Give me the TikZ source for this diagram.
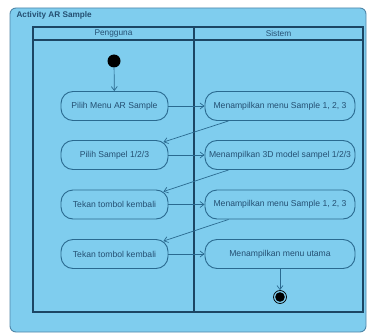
\documentclass[tikz,border=0pt]{standalone}
\usepackage{fontspec}
\setmainfont{Liberation Sans}
\usetikzlibrary{arrows.meta,calc}
\definecolor{skyfill}{HTML}{7FCDEE}
\definecolor{framec}{HTML}{4F86A8}
\definecolor{lanec}{HTML}{1C4664}
\definecolor{boxc}{HTML}{2A6A90}
\definecolor{txtc}{HTML}{244F72}
\tikzset{
  x=1pt, y=-1pt,
  action/.style={draw=boxc, line width=0.9pt, rounded corners=12pt, fill=skyfill,
    minimum height=29pt, inner sep=1pt, font=\fontsize{8.6}{9}\selectfont, text=txtc},
  leftact/.style={action, minimum width=107pt},
  rightact/.style={action, minimum width=150pt},
  flow/.style={draw=boxc, line width=0.7pt, -{Straight Barb[length=4pt,width=6pt]}},
  lane/.style={draw=lanec, line width=1.1pt},
  head/.style={font=\fontsize{8.3}{9}\selectfont, text=txtc}
}
\begin{document}
\begin{tikzpicture}
\useasboundingbox (0,0) rectangle (371,334);
% diagram frame
\draw[framec, line width=0.9pt, fill=skyfill, rounded corners=6pt] (10,8) rectangle (366,332);
\node[anchor=west, font=\bfseries\fontsize{8.2}{9}\selectfont, text=txtc] (title) at (13,15.5) {Activity AR Sample};
% swimlanes
\draw[lane] (33,27) rectangle (363,312);
\draw[lane] (33,40) -- (363,40);
\draw[lane] (194,27) -- (194,312);
\node[head] (laneA) at (113.5,33.5) {Pengguna};
\node[head] (laneB) at (278.5,33.5) {Sistem};
% start and end markers
\node[circle, fill=black, minimum size=13pt, inner sep=0pt] (start) at (114,61) {};
\node[circle, draw=black, line width=0.7pt, minimum size=13pt, inner sep=0pt] (stop) at (280,297) {};
\fill[black] (stop.center) circle (4.8pt);
% actions
\node[leftact] (a1) at (114.5,106) {Pilih Menu AR Sample};
\node[leftact] (a2) at (114.5,155) {Pilih Sampel 1/2/3};
\node[leftact] (a3) at (114.5,204.5) {Tekan tombol kembali};
\node[leftact] (a4) at (114.5,254) {Tekan tombol kembali};
\node[rightact] (b1) at (280,106) {Menampilkan menu Sample 1, 2, 3};
\node[rightact] (b2) at (280,155) {Menampilkan 3D model sampel 1/2/3};
\node[rightact] (b3) at (280,204.5) {Menampilkan menu Sample 1, 2, 3};
\node[rightact] (b4) at (280,254) {Menampilkan menu utama};
% control flow
\draw[flow] (start) -- (a1);
\draw[flow] (a1) -- (b1);
\draw[flow] ($(b1.south west)+(24,0)$) -- ($(a2.north east)+(-5,2)$);
\draw[flow] (a2) -- (b2);
\draw[flow] ($(b2.south west)+(24,0)$) -- ($(a3.north east)+(-5,2)$);
\draw[flow] (a3) -- (b3);
\draw[flow] ($(b3.south west)+(24,0)$) -- ($(a4.north east)+(-5,2)$);
\draw[flow] (a4) -- (b4);
\draw[flow] (b4) -- (stop);
\end{tikzpicture}
\end{document}
